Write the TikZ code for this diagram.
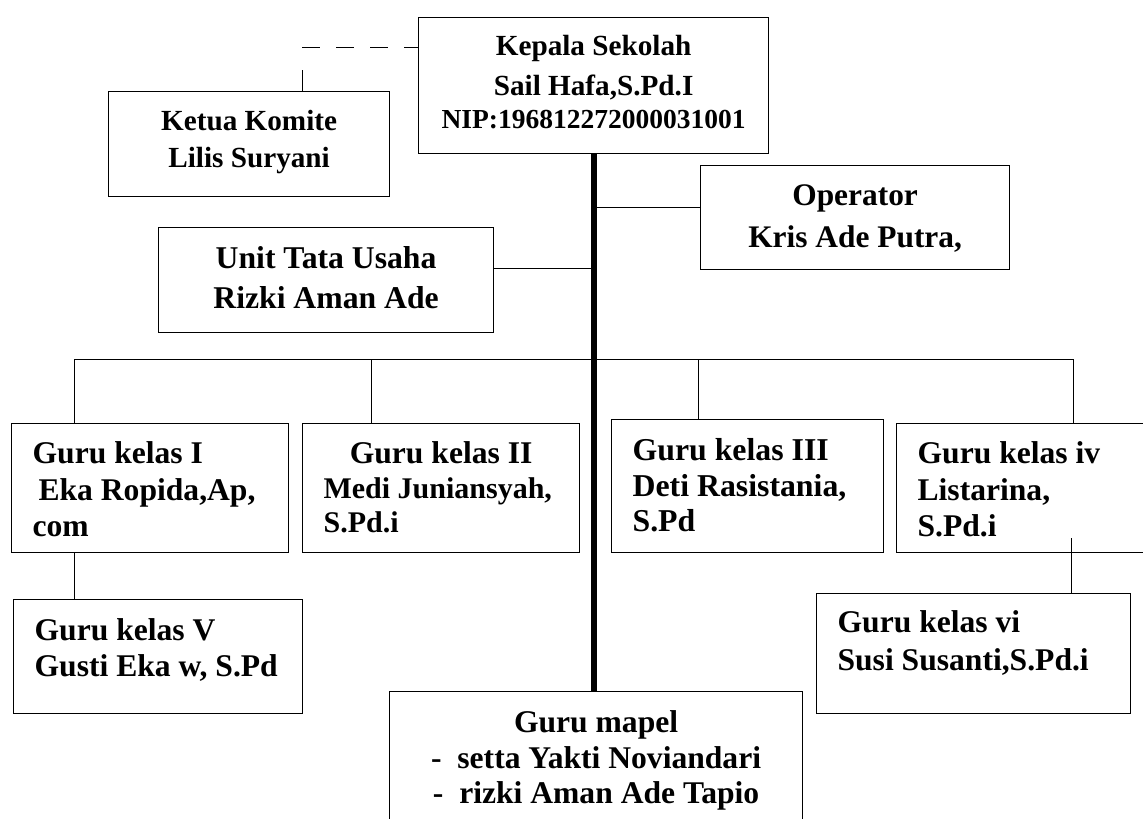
\documentclass[tikz,border=0pt]{standalone}
\usepackage{fontspec}
\setmainfont{Liberation Serif}
\newcommand{\huruf}[2]{\bfseries\fontsize{#1}{#2}\selectfont}
\tikzset{
  kotak/.style={draw, line width=1.2pt, anchor=north west, inner ysep=0pt,
    execute at begin node={\spaceskip=0pt\xspaceskip=0pt\relax}},
  tengah/.style={kotak, align=flush center, inner xsep=0pt},
  kiri/.style={kotak, align=flush left, inner xsep=21pt},
  garis/.style={line width=1pt},
}
\begin{document}
\begin{tikzpicture}[x=1pt, y=-1pt]
    \useasboundingbox (0,0) rectangle (1143,819);
    % kotak-kotak
    \node [tengah, font=\huruf{29.2}{40}, text width=350pt, text height=38pt, text depth=98pt] (kepala) at (418,17)
        {Kepala Sekolah\\Sail Hafa,S.Pd.I\\[-7pt]{\fontsize{27.5}{40}\selectfont NIP:196812272000031001}};
    \node [tengah, font=\huruf{29.2}{37}, text width=281pt, text height=39pt, text depth=66pt] (ketua) at (108,91)
        {Ketua Komite\\Lilis Suryani};
    \node [tengah, font=\huruf{31.4}{42}, text width=309pt, text height=40pt, text depth=64pt] (operator) at (700,165)
        {Operator\\Kris Ade Putra,};
    \node [tengah, font=\huruf{31.7}{40}, text width=335pt, text height=41pt, text depth=64pt] (tu) at (158,227)
        {Unit Tata Usaha\\Rizki Aman Ade};
    \node [kiri, font=\huruf{31.6}{36.5}, text width=235pt, text height=40pt, text depth=89pt] (g1) at (11,423)
        {Guru kelas I\\\hspace*{6pt}Eka Ropida,Ap,\\com};
    \node [kiri, font=\huruf{31.6}{35}, text width=235pt, text height=40pt, text depth=89pt] (g2) at (302,423)
        {\makebox[\linewidth]{Guru kelas II}\\{\fontsize{30}{35}\selectfont \mbox{Medi Juniansyah,}}\\[-1pt]{\fontsize{30}{35}\selectfont S.Pd.i}};
    \node [kiri, font=\huruf{31.8}{36}, text width=230pt, text height=41pt, text depth=92pt] (g3) at (611,419)
        {Guru kelas III\\Deti Rasistania,\\[-1pt]S.Pd};
    \node [kiri, font=\huruf{31.6}{36.5}, text width=222pt, text height=40pt, text depth=89pt] (g4) at (896,423)
        {Guru kelas iv\\Listarina,\\S.Pd.i};
    \node [kiri, font=\huruf{31.6}{36}, text width=247pt, text height=41pt, text depth=73pt] (g5) at (13,599)
        {Guru kelas V\\\mbox{Gusti Eka w, S.Pd}};
    \node [kiri, font=\huruf{31.6}{38}, text width=272pt, text height=39pt, text depth=81pt] (g6) at (816,593)
        {Guru kelas vi\\\mbox{Susi Susanti,S.Pd.i}};
    \node [tengah, font=\huruf{31.6}{35.5}, text width=413pt, text height=41pt, text depth=118pt] (mapel) at (389,691)
        {Guru mapel\\-\ \ setta Yakti Noviandari\\-\ \ rizki Aman Ade Tapio};
    % garis penghubung
    \coordinate (titik) at (302,47);
    \coordinate (titik2) at (302,70);
    \coordinate (op) at ([yshift=10pt]operator.west);
    \coordinate (utu) at ([yshift=11.5pt]tu.east);
    \coordinate (busL) at (74,359);
    \coordinate (b2) at (371,359);
    \coordinate (b3) at (698,359);
    \coordinate (busR) at (1073,359);
    \coordinate (c4) at (1071,538);
    \draw [line width=6pt] (kepala.south) -- (kepala.south |- mapel.north);
    \draw [garis, dash pattern=on 18pt off 16pt] (titik) -- (kepala.west |- titik);
    \draw [garis] (titik2) -- (titik2 |- ketua.north);
    \draw [garis] (kepala.south |- op) -- (op);
    \draw [garis] (utu) -- (kepala.south |- utu);
    \draw [garis] (busL) -- (busR);
    \foreach \t/\k in {busL/g1, b2/g2, b3/g3, busR/g4}
        \draw [garis] (\t) -- (\t |- \k.north);
    \draw [garis] (busL |- g1.south) -- (busL |- g5.north);
    \draw [garis] (c4) -- (c4 |- g6.north);
\end{tikzpicture}
\end{document}
